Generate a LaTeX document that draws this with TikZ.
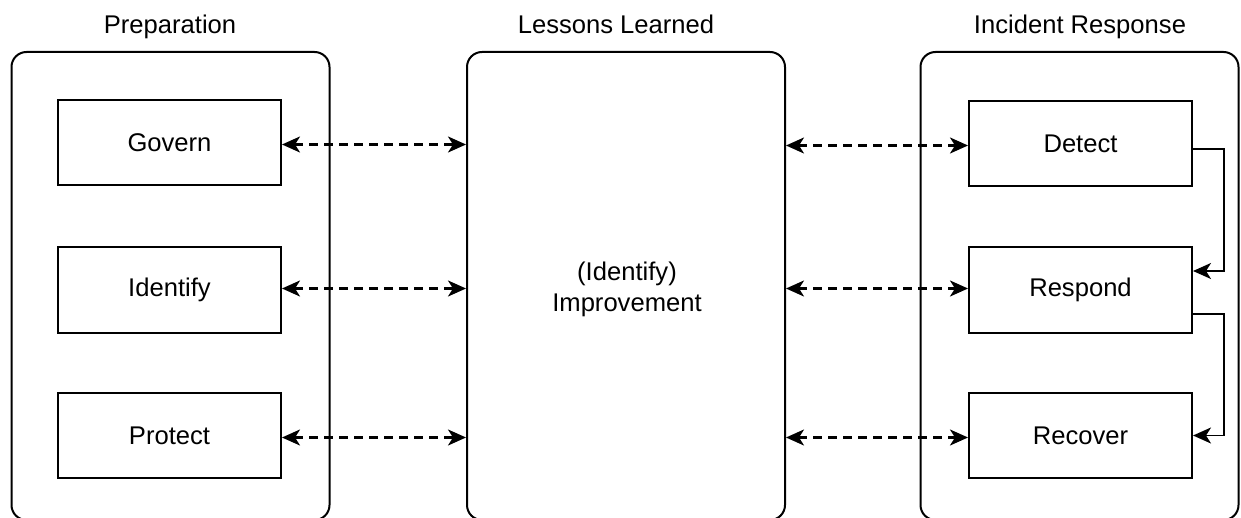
\documentclass[tikz,border=0pt]{standalone}
\usepackage{fontspec}
\setmainfont{Liberation Sans}
\usetikzlibrary{arrows.meta}

\begin{document}
\begin{tikzpicture}[x=0.5pt,y=-0.5pt,
    >={Stealth[length=9pt,width=8pt,inset=2.5pt]},
    every node/.style={font=\fontsize{12.8}{15.5}\selectfont},
    title/.style={anchor=base},
    phase/.style={draw,line width=1pt,rounded corners=7.5pt,minimum width=159pt,minimum height=234pt},
    stepbox/.style={draw,line width=1pt,minimum width=111.5pt,minimum height=42.5pt},
    link/.style={<->,dashed,dash pattern=on 4.5pt off 3pt,line width=1.1pt},
    flow/.style={->,line width=0.9pt}]
  \useasboundingbox (0,0) rectangle (1241,518);

  % the three phases
  \node[phase] (prep) at (170.5,286) {};
  \node[phase] (lessons) at (626,286) {};
  \node[phase] (incident) at (1079.5,286) {};
  \node[title] (preptitle) at (170,34) {Preparation};
  \node[title] (lessonstitle) at (616,34) {Lessons Learned};
  \node[title] (incidenttitle) at (1080,34) {Incident Response};
  \node[align=center] (improve) at (627,289) {(Identify)\\Improvement};

  % steps
  \node[stepbox] (govern) at (169.5,142.5) {Govern};
  \node[stepbox] (identify) at (169.5,290) {Identify};
  \node[stepbox] (protect) at (169.5,435.5) {Protect};
  \node[stepbox] (detect) at (1080.5,143.5) {Detect};
  \node[stepbox] (respond) at (1080.5,290) {Respond};
  \node[stepbox] (recover) at (1080.5,435.5) {Recover};

  % links to lessons learned
  \draw[link] ([yshift=-1pt]govern.east) -- ([yshift=-1pt]govern.east -| lessons.west);
  \draw[link] ([yshift=0.75pt]identify.east) -- ([yshift=0.75pt]identify.east -| lessons.west);
  \draw[link] ([yshift=-1pt]protect.east) -- ([yshift=-1pt]protect.east -| lessons.west);
  \draw[link] ([yshift=-1pt]lessons.east |- detect.east) -- ([yshift=-1pt]detect.west);
  \draw[link] ([yshift=0.75pt]lessons.east |- respond.east) -- ([yshift=0.75pt]respond.west);
  \draw[link] ([yshift=-1pt]lessons.east |- recover.east) -- ([yshift=-1pt]recover.west);

  % incident flow
  \draw[flow] ([yshift=-2.75pt]detect.east) -- ++(31,0) |- ([yshift=9.5pt]respond.east);
  \draw[flow] ([yshift=-12pt]respond.east) -- ++(31,0) |- (recover.east);
\end{tikzpicture}
\end{document}
